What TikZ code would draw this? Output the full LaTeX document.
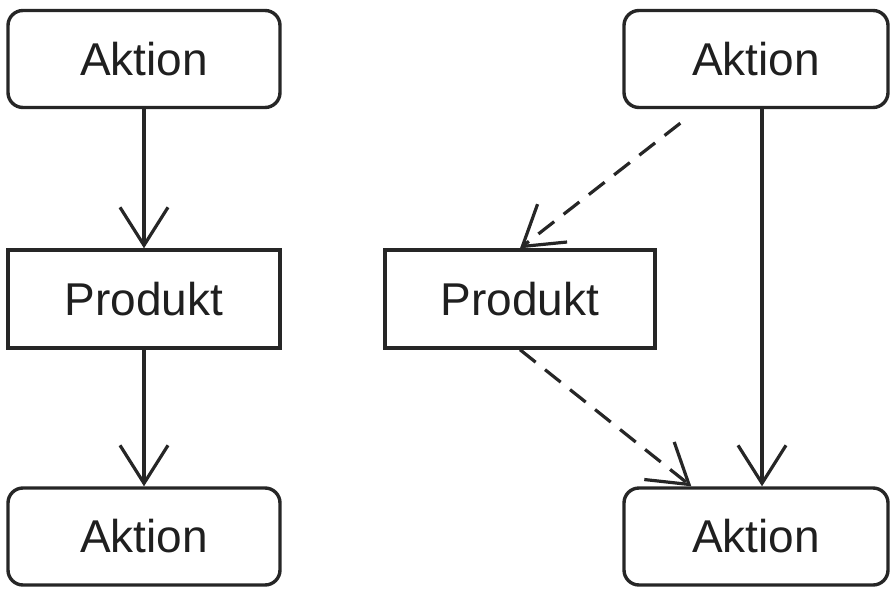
\documentclass[tikz,border=0pt]{standalone}
\usepackage{fontspec}
\setmainfont{Liberation Sans}
\usetikzlibrary{arrows.meta}
\begin{document}
\begin{tikzpicture}[x=1pt,y=-1pt,
  base/.style={draw=black!85,line width=3.4pt,inner sep=0pt,font=\fontsize{46}{52}\selectfont,text=black!88},
  aktion/.style={base,rounded corners=15pt,minimum height=97pt},
  produkt/.style={base,minimum height=98pt,minimum width=270pt},
  flow/.style={draw=black!85,line width=3.2pt,-{Straight Barb[length=38pt,width=48pt,line width=3.2pt]}},
  dep/.style={flow,dash pattern=on 20pt off 12pt}]
\useasboundingbox (0,0) rectangle (890,588);
\node[aktion,minimum width=272pt] (la) at (144,59) {Aktion};
\node[produkt,minimum width=272pt] (lp) at (144,299) {Produkt};
\node[aktion,minimum width=272pt] (lb) at (144,536.5) {Aktion};
\node[aktion,minimum width=264pt] (ra) at (756,59) {Aktion};
\node[produkt] (rp) at (520,299) {Produkt};
\node[aktion,minimum width=264pt] (rb) at (756,536.5) {Aktion};
\coordinate (ds) at ([shift={(58,14)}]ra.south west);
\coordinate (de) at ([shift={(69,0)}]rb.north west);
\draw[flow] (la) -- (lp);
\draw[flow] (lp) -- (lb);
\draw[flow] ([xshift=6pt]ra.south) -- ([xshift=6pt]rb.north);
\draw[dep] (ds) -- (rp.north);
\draw[dep] (rp.south) -- (de);
\end{tikzpicture}
\end{document}
